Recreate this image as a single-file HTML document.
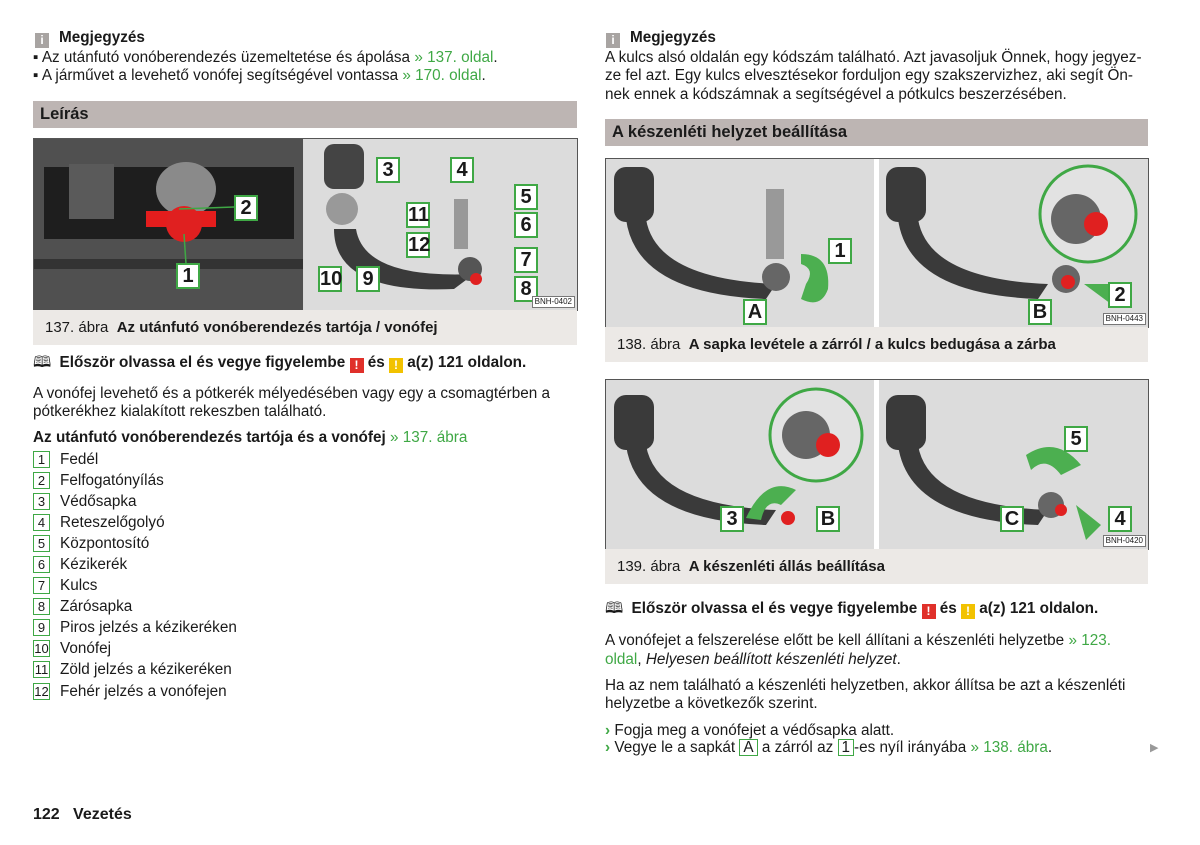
<!DOCTYPE html>
<html><head><meta charset="utf-8"><style>
body{margin:0;width:1200px;height:845px;background:#fff;position:relative;overflow:hidden;font-family:"Liberation Sans",sans-serif;color:#1a1a1a;font-size:15.3px}
.t{position:absolute;white-space:nowrap;line-height:18px}
.g{color:#3fa845}
b{font-weight:bold}
.hdr{position:absolute;background:#bdb5b3;font-weight:bold;font-size:16.5px;padding-left:7px;line-height:27px}
.cap{position:absolute;background:#ece9e6;font-size:15px;padding-left:12px;line-height:35px}
.ib{display:inline-block;width:14px;height:15px;background:#a8a4a2;color:#fff;font-weight:bold;font-size:12px;text-align:center;line-height:15px;margin-right:10px;vertical-align:-2px}
.n{display:inline-block;width:15px;height:15px;border:1px solid #3fa845;text-align:center;line-height:15px;font-size:13px;margin-right:10px}
.bx{display:inline-block;border:1px solid #3fa845;padding:0 3px;line-height:15px}
.L{position:absolute;background:#fff;border:2px solid #3fa845;font-weight:bold;font-size:20px;text-align:center;width:20px;height:22px;line-height:22px}
.w{display:inline-block;width:14px;height:15px;color:#fff;font-weight:bold;text-align:center;line-height:15px;font-size:12px;vertical-align:-2px}
.img{position:absolute;border:1px solid #555;overflow:hidden}
.code{position:absolute;right:2px;bottom:2px;font-size:8px;background:#fff;border:1px solid #777;padding:0 2px;line-height:10px}
</style></head><body>

<div class="t" style="left:35px;top:29px"><span class="ib">i</span><b>Megjegyzés</b></div>
<div class="t" style="left:33px;top:49px">▪ Az utánfutó vonóberendezés üzemeltetése és ápolása <span class="g">» 137. oldal</span>.</div>
<div class="t" style="left:33px;top:67px">▪ A járművet a levehető vonófej segítségével vontassa <span class="g">» 170. oldal</span>.</div>
<div class="hdr" style="left:33px;top:101px;width:537px">Leírás</div>

<div class="img" style="left:33px;top:138px;width:543px;height:171px;background:#d9d9d9">
<svg width="543" height="171">
<rect x="0" y="0" width="269" height="171" fill="#505050"/>
<rect x="10" y="28" width="250" height="72" fill="#1e1e1e"/>
<rect x="0" y="120" width="269" height="10" fill="#333"/>
<rect x="35" y="25" width="45" height="55" fill="#5a5a5a"/>
<ellipse cx="152" cy="50" rx="30" ry="27" fill="#8a8a8a"/>
<rect x="112" y="72" width="70" height="16" fill="#e41d1d"/>
<circle cx="150" cy="85" r="18" fill="#e02020"/>
<rect x="270" y="0" width="273" height="171" fill="#dcdcdc"/>
<rect x="290" y="5" width="40" height="45" rx="10" fill="#444"/>
<circle cx="308" cy="70" r="16" fill="#999"/>
<path d="M300 90 Q300 155 420 150 L440 135 Q330 140 322 90Z" fill="#3a3a3a"/>
<rect x="420" y="60" width="14" height="50" fill="#999"/>
<circle cx="436" cy="130" r="12" fill="#555"/>
<circle cx="442" cy="140" r="6" fill="#e02020"/>
<g stroke="#3fa845" stroke-width="1.5"><line x1="145" y1="70" x2="200" y2="68"/><line x1="150" y1="95" x2="152" y2="125"/></g>
</svg>
<div class="L" style="left:200px;top:56px">2</div>
<div class="L" style="left:142px;top:124px">1</div>
<div class="L" style="left:342px;top:18px">3</div>
<div class="L" style="left:416px;top:18px">4</div>
<div class="L" style="left:480px;top:45px">5</div>
<div class="L" style="left:480px;top:73px">6</div>
<div class="L" style="left:480px;top:108px">7</div>
<div class="L" style="left:480px;top:137px">8</div>
<div class="L" style="left:372px;top:63px">11</div>
<div class="L" style="left:372px;top:93px">12</div>
<div class="L" style="left:284px;top:127px">10</div>
<div class="L" style="left:322px;top:127px">9</div>
<div class="code">BNH-0402</div>
</div>
<div class="cap" style="left:33px;top:310px;width:532px">137. ábra &nbsp;<b>Az utánfutó vonóberendezés tartója / vonófej</b></div>

<div class="t" style="left:33px;top:354px">🕮 &nbsp;<b>Először olvassa el és vegye figyelembe <span class="w" style="background:#e0302a">!</span> és <span class="w" style="background:#f2c200">!</span> a(z) 121 oldalon.</b></div>
<div class="t" style="left:33px;top:385px">A vonófej levehető és a pótkerék mélyedésében vagy egy a csomagtérben a</div>
<div class="t" style="left:33px;top:403px">pótkerékhez kialakított rekeszben található.</div>
<div class="t" style="left:33px;top:429px"><b>Az utánfutó vonóberendezés tartója és a vonófej</b> <span class="g">» 137. ábra</span></div>
<div class="t" style="left:33px;top:451px"><span class="n">1</span>Fedél</div>
<div class="t" style="left:33px;top:472px"><span class="n">2</span>Felfogatónyílás</div>
<div class="t" style="left:33px;top:493px"><span class="n">3</span>Védősapka</div>
<div class="t" style="left:33px;top:514px"><span class="n">4</span>Reteszelőgolyó</div>
<div class="t" style="left:33px;top:535px"><span class="n">5</span>Központosító</div>
<div class="t" style="left:33px;top:556px"><span class="n">6</span>Kézikerék</div>
<div class="t" style="left:33px;top:577px"><span class="n">7</span>Kulcs</div>
<div class="t" style="left:33px;top:598px"><span class="n">8</span>Zárósapka</div>
<div class="t" style="left:33px;top:619px"><span class="n">9</span>Piros jelzés a kézikeréken</div>
<div class="t" style="left:33px;top:640px"><span class="n">10</span>Vonófej</div>
<div class="t" style="left:33px;top:661px"><span class="n">11</span>Zöld jelzés a kézikeréken</div>
<div class="t" style="left:33px;top:683px"><span class="n">12</span>Fehér jelzés a vonófejen</div>

<div class="t" style="left:33px;top:806px;font-size:16px"><b>122 &nbsp; Vezetés</b></div>

<div class="t" style="left:606px;top:29px"><span class="ib">i</span><b>Megjegyzés</b></div>
<div class="t" style="left:605px;top:49px">A kulcs alsó oldalán egy kódszám található. Azt javasoljuk Önnek, hogy jegyez-</div>
<div class="t" style="left:605px;top:67px">ze fel azt. Egy kulcs elvesztésekor forduljon egy szakszervizhez, aki segít Ön-</div>
<div class="t" style="left:605px;top:86px">nek ennek a kódszámnak a segítségével a pótkulcs beszerzésében.</div>
<div class="hdr" style="left:605px;top:119px;width:536px">A készenléti helyzet beállítása</div>

<div class="img" style="left:605px;top:158px;width:542px;height:168px;background:#dcdcdc">
<svg width="542" height="168">
<rect x="268" y="0" width="5" height="168" fill="#fff"/>
<g fill="#3a3a3a"><rect x="8" y="8" width="40" height="55" rx="12"/><path d="M20 60 Q30 135 160 140 L170 125 Q50 120 40 60Z"/>
<rect x="280" y="8" width="40" height="55" rx="12"/><path d="M292 60 Q302 135 432 140 L442 125 Q322 120 312 60Z"/></g>
<rect x="160" y="30" width="18" height="70" fill="#999"/><circle cx="170" cy="118" r="14" fill="#666"/>
<path d="M195 95 Q225 95 222 130 Q215 150 195 140 L200 125 Q210 110 195 105 Z" fill="#4caf50"/>
<circle cx="460" cy="120" r="14" fill="#666"/><circle cx="462" cy="123" r="7" fill="#e02020"/>
<path d="M478 125 L505 125 L505 145 Z" fill="#4caf50"/>
<circle cx="482" cy="55" r="48" fill="#e2e2e2" stroke="#3fa845" stroke-width="3"/>
<circle cx="470" cy="60" r="25" fill="#666"/><circle cx="490" cy="65" r="12" fill="#e02020"/>
</svg>
<div class="L" style="left:222px;top:79px">1</div>
<div class="L" style="left:137px;top:140px">A</div>
<div class="L" style="left:502px;top:123px">2</div>
<div class="L" style="left:422px;top:140px">B</div>
<div class="code">BNH-0443</div>
</div>
<div class="cap" style="left:605px;top:327px;width:531px">138. ábra &nbsp;<b>A sapka levétele a zárról / a kulcs bedugása a zárba</b></div>

<div class="img" style="left:605px;top:379px;width:542px;height:169px;background:#dcdcdc">
<svg width="542" height="169">
<rect x="268" y="0" width="5" height="169" fill="#fff"/>
<g fill="#3a3a3a"><rect x="8" y="15" width="40" height="55" rx="12"/><path d="M20 65 Q30 140 160 145 L170 130 Q50 125 40 65Z"/>
<rect x="280" y="15" width="40" height="55" rx="12"/><path d="M292 65 Q302 140 432 145 L442 130 Q322 125 312 65Z"/></g>
<circle cx="210" cy="55" r="46" fill="#e2e2e2" stroke="#3fa845" stroke-width="3"/>
<circle cx="200" cy="55" r="24" fill="#666"/><circle cx="222" cy="65" r="12" fill="#e02020"/>
<path d="M140 138 Q160 95 190 110 L175 125 Q160 118 155 140 Z" fill="#4caf50"/>
<circle cx="182" cy="138" r="7" fill="#e02020"/>
<path d="M420 75 Q450 55 475 85 L455 95 Q440 75 425 90 Z" fill="#4caf50"/>
<circle cx="445" cy="125" r="13" fill="#666"/><circle cx="455" cy="130" r="6" fill="#e02020"/>
<path d="M470 125 L495 145 L480 160 Z" fill="#4caf50"/>
</svg>
<div class="L" style="left:114px;top:126px">3</div>
<div class="L" style="left:210px;top:126px">B</div>
<div class="L" style="left:458px;top:46px">5</div>
<div class="L" style="left:394px;top:126px">C</div>
<div class="L" style="left:502px;top:126px">4</div>
<div class="code">BNH-0420</div>
</div>
<div class="cap" style="left:605px;top:549px;width:531px">139. ábra &nbsp;<b>A készenléti állás beállítása</b></div>

<div class="t" style="left:605px;top:600px">🕮 &nbsp;<b>Először olvassa el és vegye figyelembe <span class="w" style="background:#e0302a">!</span> és <span class="w" style="background:#f2c200">!</span> a(z) 121 oldalon.</b></div>
<div class="t" style="left:605px;top:632px">A vonófejet a felszerelése előtt be kell állítani a készenléti helyzetbe <span class="g">» 123.</span></div>
<div class="t" style="left:605px;top:651px"><span class="g">oldal</span>, <i>Helyesen beállított készenléti helyzet</i>.</div>
<div class="t" style="left:605px;top:677px">Ha az nem található a készenléti helyzetben, akkor állítsa be azt a készenléti</div>
<div class="t" style="left:605px;top:695px">helyzetbe a következők szerint.</div>
<div class="t" style="left:605px;top:722px"><span class="g"><b>›</b></span> Fogja meg a vonófejet a védősapka alatt.</div>
<div class="t" style="left:605px;top:739px"><span class="g"><b>›</b></span> Vegye le a sapkát <span class="bx">A</span> a zárról az <span class="bx">1</span>-es nyíl irányába <span class="g">» 138. ábra</span>.</div>
<div class="t" style="left:1150px;top:739px;color:#999;font-size:11px">▶</div>
</body></html>
